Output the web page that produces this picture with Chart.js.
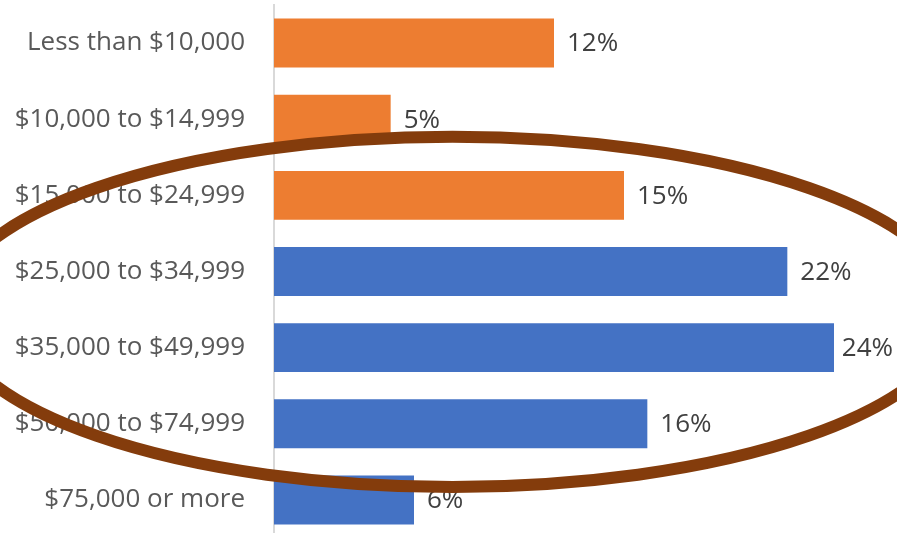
<!DOCTYPE html>
<html>
<head>
<meta charset="utf-8">
<script src="https://cdn.jsdelivr.net/npm/chart.js@4.4.1/dist/chart.umd.min.js"></script>
<style>
  html, body { margin: 0; padding: 0; background: #fff; overflow: hidden; }
  canvas { display: block; }
</style>
</head>
<body>
<canvas id="incomeBar" width="897" height="538"></canvas>
<script>
const incomeLabels = [
  "Less than $10,000",
  "$10,000 to $14,999",
  "$15,000 to $24,999",
  "$25,000 to $34,999",
  "$35,000 to $49,999",
  "$50,000 to $74,999",
  "$75,000 or more",
];
const incomeShare = [12, 5, 15, 22, 24, 16, 6];
// brackets below $25k are shown in orange
const lowIncomeCount = 3;

const colors = {
  low: "#ED7D31",
  high: "#4472C4",
  text: "#595959",
  label: "#404040",
  ring: "#843C0C",
};

// percent labels at the end of each bar, pulled in if they would run off the edge
const valueLabels = {
  id: "valueLabels",
  afterDatasetsDraw(chart) {
    const ctx = chart.ctx;
    const meta = chart.getDatasetMeta(0);
    ctx.save();
    ctx.font = "26px 'Open Sans'";
    ctx.fillStyle = colors.label;
    ctx.textAlign = "left";
    ctx.textBaseline = "middle";
    meta.data.forEach((bar, i) => {
      const text = incomeShare[i] + "%";
      const w = ctx.measureText(text).width;
      const tx = Math.min(bar.x + 13, chart.width - w - 4);
      ctx.fillText(text, tx, bar.y + 1);
    });
    ctx.restore();
  },
};

// brown ring drawn over the middle brackets
const ring = {
  id: "ring",
  afterDraw(chart) {
    const x = chart.scales.x;
    const y = chart.scales.y;
    const cx = x.getPixelForValue(7.65);
    const rx = x.getPixelForValue(7.65 + 21.6) - cx;
    const cy = y.getPixelForValue(3.53);
    const ry = y.getPixelForValue(3.53 + 2.3) - cy;
    const ctx = chart.ctx;
    ctx.save();
    ctx.strokeStyle = colors.ring;
    ctx.lineWidth = 12;
    ctx.beginPath();
    ctx.ellipse(cx, cy, rx, ry, 0, 0, Math.PI * 2);
    ctx.stroke();
    ctx.restore();
  },
};

const ctx = document.getElementById("incomeBar").getContext("2d");
const incomeChart = new Chart(ctx, {
  type: "bar",
  data: {
    labels: incomeLabels,
    datasets: [
      {
        data: incomeShare,
        backgroundColor: incomeShare.map((v, i) =>
          i < lowIncomeCount ? colors.low : colors.high
        ),
        borderWidth: 0,
        categoryPercentage: 1,
        barPercentage: 0.643,
      },
    ],
  },
  options: {
    indexAxis: "y",
    responsive: false,
    animation: false,
    layout: {
      padding: { top: 5, right: 0, bottom: 0, left: 0 },
    },
    scales: {
      x: {
        display: false,
        min: 0,
        max: 26.7,
      },
      y: {
        afterFit(scale) {
          scale.width = 274;
          // labels sit inside the bands, no extra room above/below
          scale.paddingTop = 0;
          scale.paddingBottom = 0;
        },
        grid: {
          display: false,
          drawTicks: false,
        },
        border: {
          display: true,
          color: "#d9d9d9",
          width: 2,
        },
        ticks: {
          padding: 29,
          color: colors.text,
          font: { family: "'Open Sans'", size: 26 },
        },
      },
    },
    plugins: {
      legend: { display: false },
      tooltip: { enabled: false },
    },
    devicePixelRatio: 1,
  },
  plugins: [valueLabels, ring],
});
</script>
</body>
</html>
